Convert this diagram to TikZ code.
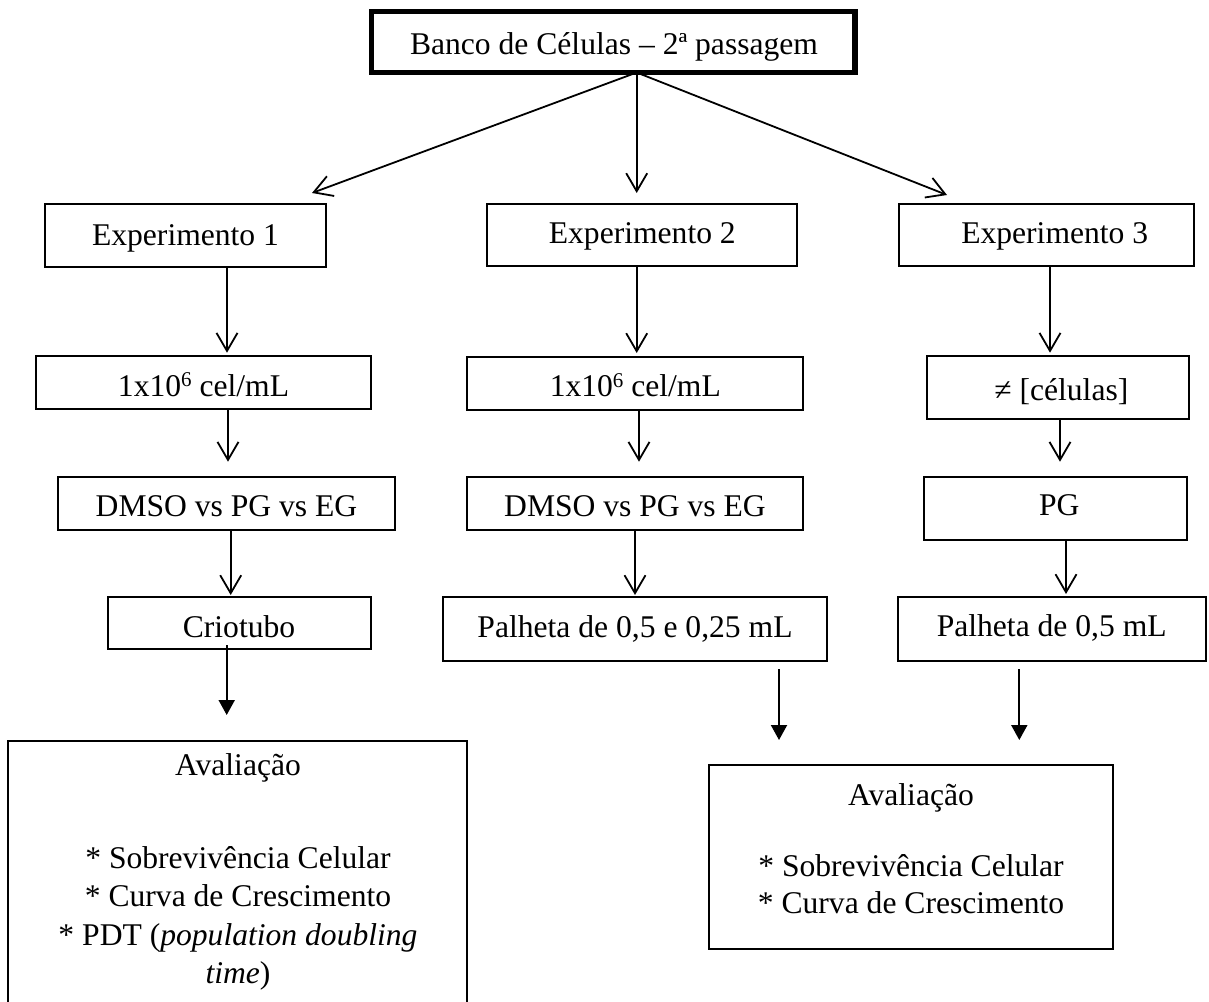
\documentclass[tikz,border=0pt]{standalone}
\usepackage{fontspec}
\setmainfont{Liberation Serif}
\usetikzlibrary{arrows.meta}
\newcommand\mybox[6][2.3pt]{\node[box,line width=#1,minimum width={(#5)-(#3)},minimum height={(#6)-(#4)}] (#2) at (#3,#4) {};}
\newcommand\mytext[4]{\node[anchor=base,inner sep=0pt] (#1) at (#2,#3) {#4};}
\newcommand\supsix{\raisebox{9.5pt}{\fontsize{21pt}{21pt}\selectfont 6}}
\begin{document}
\begin{tikzpicture}[x=1pt,y=-1pt,
  font=\fontsize{31.6pt}{38.5pt}\selectfont,
  box/.style={draw,inner sep=0pt,outer sep=0pt,anchor=north west},
  openarr/.style={line width=1.8pt,-{Straight Barb[length=18pt,width=21pt,line width=1.8pt]}},
  filarr/.style={line width=2pt,-{Triangle[length=15pt,width=16pt]}}]
\useasboundingbox (0,0) rectangle (1209,1001);
% boxes
\mybox[5.5pt]{top}{371.5}{11.5}{855}{72.5}
\mybox{exp1}{45}{204.3}{326}{266.7}
\mybox{exp2}{487.3}{204.3}{797}{266}
\mybox{exp3}{899.3}{204}{1194}{266}
\mybox{cel1}{36}{356}{371}{409.3}
\mybox{cel2}{466.7}{356.7}{803.3}{410}
\mybox{neq}{926.7}{355.7}{1189.3}{419}
\mybox{dmso1}{58}{476.7}{395}{530}
\mybox{dmso2}{466.7}{476.7}{803.3}{530}
\mybox{pg}{924}{477.3}{1186.7}{540}
\mybox{crio}{107.7}{597}{371}{649.3}
\mybox{pal2}{443.3}{597.3}{826.7}{660.7}
\mybox{pal3}{898.3}{597.3}{1206}{660.7}
\mybox{av1}{8}{741}{466.7}{1012}
\mybox{av2}{709}{765}{1113}{949.3}
% texts
\mytext{ttop}{614}{54.3}{Banco de Células – 2ª passagem}
\mytext{texp1}{185.5}{245}{Experimento 1}
\mytext{texp2}{642.3}{243.3}{Experimento 2}
\mytext{texp3}{1054.7}{243.3}{Experimento 3}
\mytext{tcel1}{203.5}{396}{1x10\supsix{} cel/mL}
\mytext{tcel2}{635.3}{396.7}{1x10\supsix{} cel/mL}
\mytext{tneq}{1061.3}{400.7}{≠ [células]}
\mytext{tdmso1}{226.5}{516.7}{DMSO vs PG vs EG}
\mytext{tdmso2}{635}{516.7}{DMSO vs PG vs EG}
\mytext{tpg}{1059.3}{515}{PG}
\mytext{tcrio}{239}{637.3}{Criotubo}
\mytext{tpal2}{635}{637.7}{Palheta de 0,5 e 0,25 mL}
\mytext{tpal3}{1051.7}{636.7}{Palheta de 0,5 mL}
\mytext{ta1}{238}{775}{Avaliação}
\mytext{ta1a}{238}{868.3}{* Sobrevivência Celular}
\mytext{ta1b}{238}{906.7}{* Curva de Crescimento}
\mytext{ta1c}{238}{945}{* PDT (\textit{population doubling}}
\mytext{ta1d}{238}{983.3}{\textit{time})}
\mytext{ta2}{911}{805}{Avaliação}
\mytext{ta2a}{911}{876.7}{* Sobrevivência Celular}
\mytext{ta2b}{911}{913.3}{* Curva de Crescimento}
% connector x positions and free ends
\coordinate (xm) at (636.7,0);
\coordinate (e1) at (312,193);
\coordinate (e2) at (636.7,193);
\coordinate (e3) at (947,195);
\coordinate (xa) at (227,0);
\coordinate (xb) at (228,0);
\coordinate (xc) at (230.7,0);
\coordinate (xd) at (636.7,0);
\coordinate (xe) at (639,0);
\coordinate (xf) at (635,0);
\coordinate (xg) at (1050,0);
\coordinate (xh) at (1060,0);
\coordinate (xi) at (1066,0);
\coordinate (xj) at (226.7,0);
\coordinate (xk) at (779,0);
\coordinate (xl) at (1019.3,0);
% top arrows
\draw[openarr] (top.south -| xm) -- (e1);
\draw[openarr] (top.south -| xm) -- (e2);
\draw[openarr] (top.south -| xm) -- (e3);
% column arrows
\draw[openarr,shorten >=3.3pt] (exp1.south -| xa) -- (cel1.north -| xa);
\draw[openarr,shorten >=15pt] (cel1.south -| xb) -- (dmso1.north -| xb);
\draw[openarr,shorten >=2pt] (dmso1.south -| xc) -- (crio.north -| xc);
\draw[openarr,shorten >=3.7pt] (exp2.south -| xd) -- (cel2.north -| xd);
\draw[openarr,shorten >=15pt] (cel2.south -| xe) -- (dmso2.north -| xe);
\draw[openarr,shorten >=2.3pt] (dmso2.south -| xf) -- (pal2.north -| xf);
\draw[openarr,shorten >=3pt] (exp3.south -| xg) -- (neq.north -| xg);
\draw[openarr,shorten >=15.6pt] (neq.south -| xh) -- (pg.north -| xh);
\draw[openarr,shorten >=3.3pt] (pg.south -| xi) -- (pal3.north -| xi);
% filled arrows
\draw[filarr,shorten <=-4.3pt,shorten >=26pt] (crio.south -| xj) -- (av1.north -| xj);
\draw[filarr,shorten <=8.6pt,shorten >=25pt] (pal2.south -| xk) -- (av2.north -| xk);
\draw[filarr,shorten <=8.6pt,shorten >=25pt] (pal3.south -| xl) -- (av2.north -| xl);
\end{tikzpicture}
\end{document}
